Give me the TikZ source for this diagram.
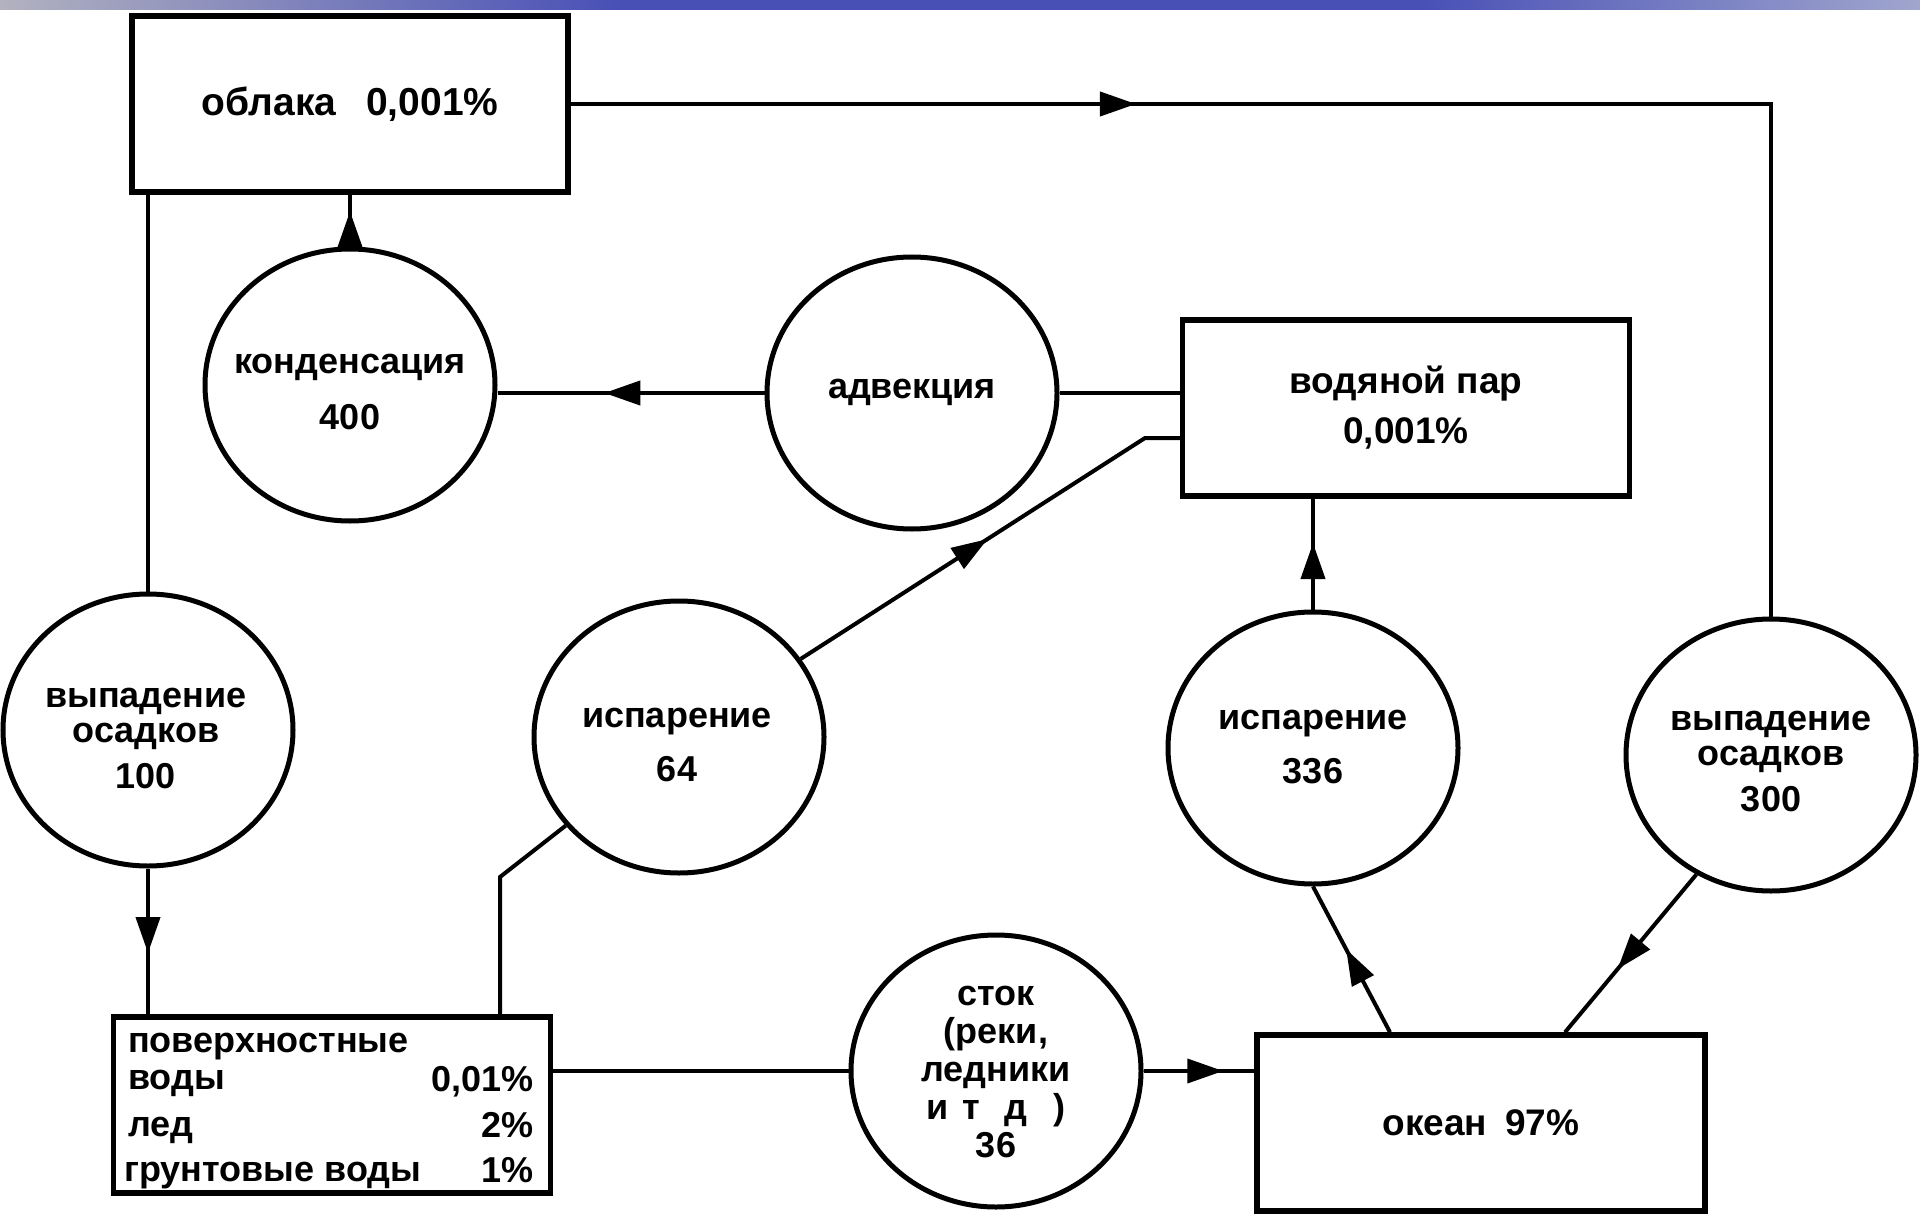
\documentclass[tikz,border=0pt]{standalone}
\usepackage{fontspec}
\setmainfont{Liberation Sans}
\usetikzlibrary{shapes.geometric,arrows.meta,decorations.markings}
\definecolor{bargray}{RGB}{178,178,192}
\definecolor{barblue}{RGB}{72,80,182}
\definecolor{barlight}{RGB}{160,166,205}
\begin{document}
\begin{tikzpicture}[x=1pt,y=-1pt,
  boxnode/.style={draw=black, line width=5.5pt, inner sep=0pt, minimum height=176pt,
    align=center, font=\fontsize{37}{44}\selectfont\bfseries},
  ring/.style={ellipse, draw=black, line width=5pt, minimum width=290pt,
    minimum height=272pt, inner sep=0pt},
  ringtext/.style={inner sep=0pt, align=center, font=\fontsize{36}{40}\selectfont\bfseries},
  ptext/.style={inner sep=0pt, font=\fontsize{36}{40}\selectfont\bfseries},
  flow/.style={draw=black, line width=4pt},
  midarr/.style={flow, postaction={decorate},
    decoration={markings, mark=at position #1 with {\arrow{Triangle[length=36pt,width=24pt]}}}}
]
\useasboundingbox (0,0) rectangle (1920,1217);
\fill[white] (0,0) rectangle (1920,1217);
% top bar
\shade[left color=bargray, right color=barblue] (0,0) rectangle (620,10);
\fill[barblue] (619,0) rectangle (1420,10);
\shade[left color=barblue, right color=barlight] (1419,0) rectangle (1920,10);

% boxes
\node[boxnode, minimum width=436pt, font=\fontsize{39}{44}\selectfont\bfseries] (oblaka) at (350,104) {облака\hspace{30pt}0,001\%};
\node[boxnode, minimum width=447pt] (vodpar) at (1406,408) {водяной пар\\[6pt]0,001\%};
\node[boxnode, minimum width=437pt] (poverkh) at (332,1105) {};
\node[boxnode, minimum width=448pt] (okean) at (1481,1123) {океан\hspace{18pt}97\%};

% poverkh texts
\node[ptext, anchor=base west] (pv1) at (128,1052) {поверхностные};
\node[ptext, anchor=base west] (pv2) at (128,1089) {воды};
\node[ptext, anchor=base east] (pv3) at (534,1091) {0,01\%};
\node[ptext, anchor=base west] (pv4) at (128,1136) {лед};
\node[ptext, anchor=base east] (pv5) at (534,1137) {2\%};
\node[ptext, anchor=base west] (pv6) at (124,1181) {грунтовые воды};
\node[ptext, anchor=base east] (pv7) at (534,1182) {1\%};

% circles
\node[ring] (kond) at (350,385) {};
\node[ring] (adv) at (912,393) {};
\node[ring] (isp64) at (679,737) {};
\node[ring] (os100) at (148,730) {};
\node[ring] (stok) at (996,1071) {};
\node[ring] (isp336) at (1313,748) {};
\node[ring] (os300) at (1771,755) {};

\node[ringtext] (kondt) at (350,392) {конденсация\\[16pt]400};
\node[ringtext] (advt) at (912,392) {адвекция};
\node[ringtext] (isp64t) at (677,745) {испарение\\[14pt]64};
\node[ringtext] (os100t) at (146,738) {выпадение\\[-5pt]осадков\\[6pt]100};
\node[ringtext] (stokt) at (996,1072) {сток\\[-2pt](реки,\\[-2pt]ледники\\[-2pt]и\hspace{14pt}т\hspace{24pt}д\hspace{26pt})\\[-2pt]36};
\node[ringtext] (isp336t) at (1313,747) {испарение\\[14pt]336};
\node[ringtext] (os300t) at (1771,762) {выпадение\\[-5pt]осадков\\[6pt]300};

% helper coordinates
\coordinate (c1) at (os300.north |- oblaka.east);
\coordinate (k1) at (1145,438);
\coordinate (k2) at (500,877);

% connectors
\draw[midarr=0.33, line join=miter] (oblaka.east) -- (c1) -- (os300.north);
\draw[midarr=0.68] (kond.north) -- (kond.north |- oblaka.south);
\draw[midarr=0.6] (adv.west) -- (adv.west -| kond.east);
\draw[flow] (adv.east) -- (adv.east -| vodpar.west);
\draw[midarr=0.5, line join=miter] (isp64) -- (k1) -- (k1 -| vodpar.west);
\draw[flow, line join=miter] (isp64) -- (k2) -- (k2 |- poverkh.north);
\draw[flow] (os100.north |- oblaka.south) -- (os100.north);
\draw[midarr=0.58] (os100.south) -- (os100.south |- poverkh.north);
\draw[flow] (stok.west -| poverkh.east) -- (stok.west);
\draw[midarr=0.72] (stok.east) -- (stok.east -| okean.west);
\draw[midarr=0.57] ([xshift=-91pt]okean.north) -- (isp336.south);
\draw[midarr=0.6] (isp336.north) -- (isp336.north |- vodpar.south);
\draw[midarr=0.6] (os300.238) -- ([xshift=84pt]okean.north);
\end{tikzpicture}
\end{document}
